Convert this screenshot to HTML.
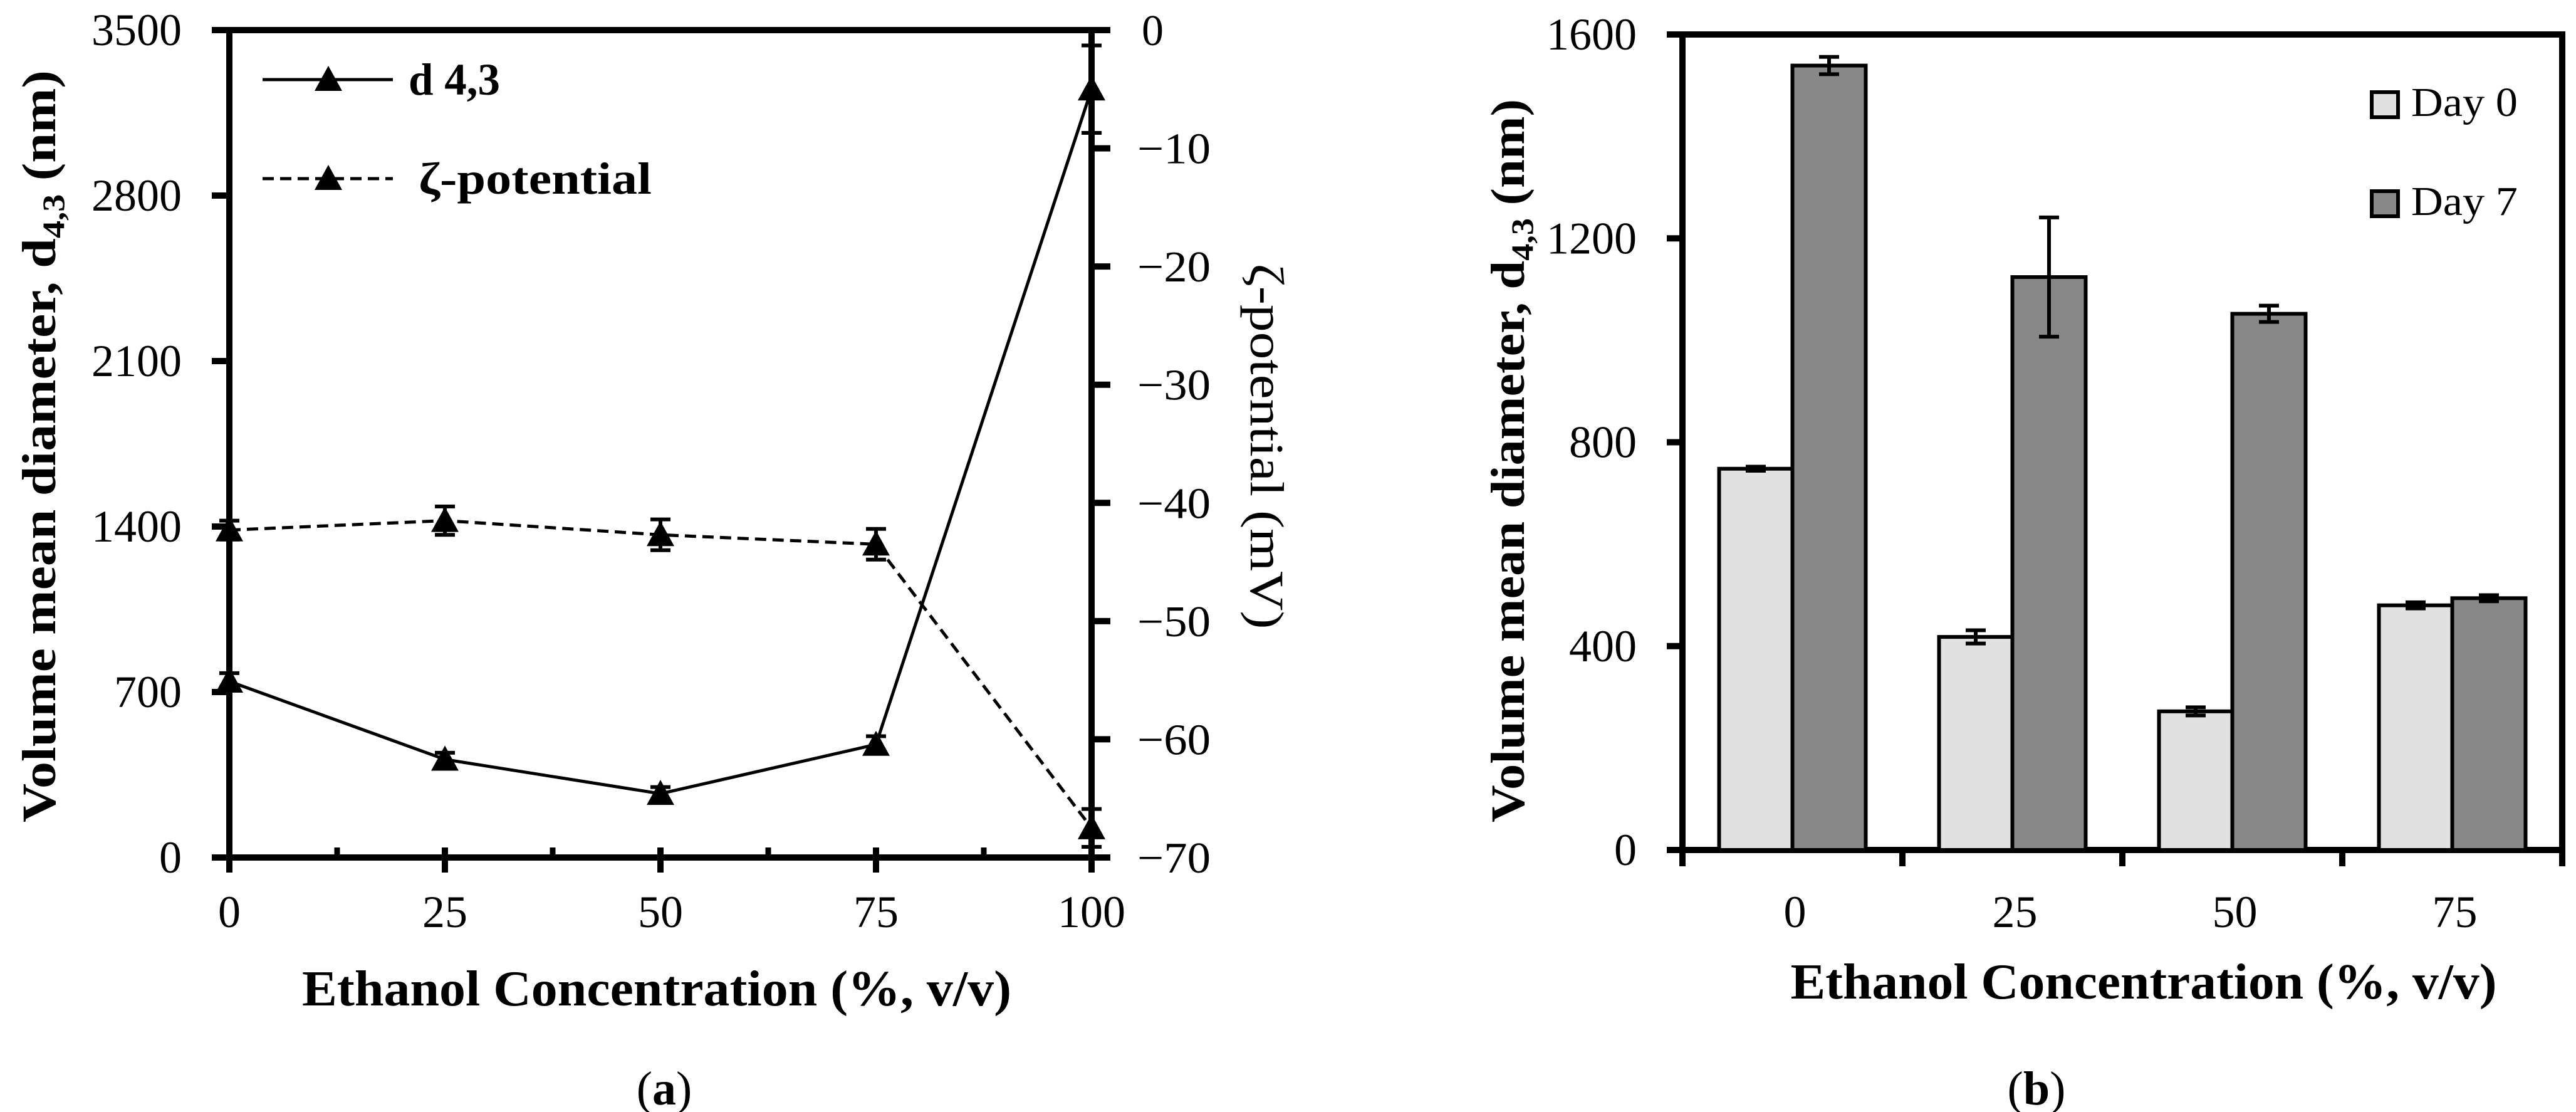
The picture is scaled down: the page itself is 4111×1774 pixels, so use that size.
<!DOCTYPE html>
<html><head><meta charset="utf-8"><style>
html,body{margin:0;padding:0;background:#fff;}
svg{display:block;}
text{font-family:"Liberation Serif",serif;fill:#000;}
</style></head><body>
<svg id="fig" width="4111" height="1774" viewBox="0 0 4111 1774" xmlns="http://www.w3.org/2000/svg">
<g id="pa"></g>
<g id="pb"></g>
</svg>
<script>
// ---- Panel (a) data ----
const aCategories = [0, 25, 50, 75, 100];
const aD43 = [745, 415, 270, 478, 3250];
const aD43Err = [35, 28, 28, 35, 185];
const aZeta = [-42.3, -41.5, -42.7, -43.5, -67.5];
const aZetaErr = [0.8, 1.2, 1.3, 1.3, 1.6];
const aLeftTicks = [0, 700, 1400, 2100, 2800, 3500];
const aRightTicks = [0, -10, -20, -30, -40, -50, -60, -70];
const aXTicks = [0, 25, 50, 75, 100];
// ---- Panel (b) data ----
const bCategories = ["0", "25", "50", "75"];
const bDay0 = [748, 418, 272, 480];
const bDay0Err = [4, 13, 8, 6];
const bDay7 = [1539, 1124, 1052, 494];
const bDay7Err = [17, 117, 16, 6];
const bYTicks = [0, 400, 800, 1200, 1600];

const NS = "http://www.w3.org/2000/svg";
function mk(parent, tag, attrs, txt) {
  const e = document.createElementNS(NS, tag);
  for (const k in attrs) e.setAttribute(k, attrs[k]);
  if (txt !== undefined) e.textContent = txt;
  parent.appendChild(e);
  return e;
}
const pa = document.getElementById('pa');
const pb = document.getElementById('pb');

// ===== Panel a axes =====
const AX0 = 366, AX1 = 1742, AY0 = 1368, AY1 = 48;
const ax = v => AX0 + (v - 0) / 100 * (AX1 - AX0);
const ayL = v => AY0 - v / 3500 * (AY0 - AY1);
const ayR = v => AY1 + (-v) / 70 * (AY0 - AY1);

let e;
e = mk(pa, 'rect', {x: AX0, y: AY1, width: AX1 - AX0, height: AY0 - AY1, fill: 'none', stroke: '#000', 'stroke-width': 10});



aLeftTicks.forEach(t => {
  const y = ayL(t);
  let l = mk(pa, 'line', {x1: 338, x2: AX0, y1: y, y2: y, stroke: '#000', 'stroke-width': 10});
  
  
  let tx = mk(pa, 'text', {x: 290, y: y + 24, 'text-anchor': 'end', 'font-size': 72}, String(t));
  
  
});
aRightTicks.forEach(t => {
  const y = ayR(t);
  let l = mk(pa, 'line', {x1: AX1, x2: 1772, y1: y, y2: y, stroke: '#000', 'stroke-width': 10});
  
  
  const lab = t === 0 ? '0' : '\u2212' + String(-t);
  const attrs = t === 0 ? {x: 1822, y: y + 24, 'font-size': 70} :
    {x: 1815, y: y + 24, 'font-size': 70, textLength: 117, lengthAdjust: 'spacingAndGlyphs'};
  let tx = mk(pa, 'text', attrs, lab);
  
  
});
for (let v = 12.5; v < 100; v += 12.5) {
  const x = ax(v);
  let l = mk(pa, 'line', {x1: x, x2: x, y1: AY0 - 16, y2: AY0, stroke: '#000', 'stroke-width': 9});
  
  
}
aXTicks.forEach(t => {
  const x = ax(t);
  let l = mk(pa, 'line', {x1: x, x2: x, y1: AY0 - 16, y2: AY0 + 24, stroke: '#000', 'stroke-width': 10});
  
  
  let tx = mk(pa, 'text', {x: x, y: 1479, 'text-anchor': 'middle', 'font-size': 72}, String(t));
  
  
});

function tri(g, cx, cy, name) {
  let p = mk(g, 'polygon', {points: `${cx},${cy - 22} ${cx - 22},${cy + 18} ${cx + 22},${cy + 18}`, fill: '#000'});
  
  
}
function errbar(g, x, y1, y2, w, name) {
  let gg = mk(g, 'g', {stroke: '#000', 'stroke-width': 6});
  
  
  mk(gg, 'line', {x1: x, x2: x, y1: y1, y2: y2});
  mk(gg, 'line', {x1: x - w, x2: x + w, y1: y1, y2: y1});
  mk(gg, 'line', {x1: x - w, x2: x + w, y1: y2, y2: y2});
}
const ptsD = aCategories.map((c, i) => `${ax(c)},${ayL(aD43[i])}`).join(' ');
e = mk(pa, 'polyline', {points: ptsD, fill: 'none', stroke: '#000', 'stroke-width': 5});


const ptsZ = aCategories.map((c, i) => `${ax(c)},${ayR(aZeta[i])}`).join(' ');
e = mk(pa, 'polyline', {points: ptsZ, fill: 'none', stroke: '#000', 'stroke-width': 5, 'stroke-dasharray': '18 10'});


aCategories.forEach((c, i) => {
  errbar(pa, ax(c), ayL(aD43[i] + aD43Err[i]), ayL(aD43[i] - aD43Err[i]), 16, 'd43-error-bar');
  tri(pa, ax(c), ayL(aD43[i]), 'd43-point');
  errbar(pa, ax(c), ayR(aZeta[i] + aZetaErr[i]), ayR(aZeta[i] - aZetaErr[i]), 16, 'zeta-error-bar');
  tri(pa, ax(c), ayR(aZeta[i]), 'zeta-point');
});

// legend a
let lg = mk(pa, 'g', {});


mk(lg, 'line', {x1: 419, x2: 627, y1: 127, y2: 127, stroke: '#000', 'stroke-width': 5});
tri(lg, 524, 127, 'legend-d43-marker');
e = mk(lg, 'text', {x: 652, y: 151, 'font-size': 72, 'font-weight': 'bold', textLength: 146, lengthAdjust: 'spacingAndGlyphs'}, 'd 4,3');


mk(lg, 'line', {x1: 419, x2: 627, y1: 285, y2: 285, stroke: '#000', 'stroke-width': 5, 'stroke-dasharray': '18 10'});
tri(lg, 524, 285, 'legend-zeta-marker');
e = mk(lg, 'text', {x: 668, y: 309, 'font-size': 72, 'font-weight': 'bold', textLength: 372, lengthAdjust: 'spacingAndGlyphs'}, 'ζ-potential');



// titles a
e = mk(pa, 'text', {x: 1048, y: 1604, 'text-anchor': 'middle', 'font-size': 80, 'font-weight': 'bold', textLength: 1132, lengthAdjust: 'spacingAndGlyphs'}, 'Ethanol Concentration (%, v/v)');


e = mk(pa, 'text', {x: 0, y: 0, 'text-anchor': 'middle', 'font-size': 76, 'font-weight': 'bold', transform: 'translate(88,712) rotate(-90)', textLength: 1200, lengthAdjust: 'spacingAndGlyphs'});


mk(e, 'tspan', {}, 'Volume mean diameter, d');
mk(e, 'tspan', {'font-size': 50, dy: 14}, '4,3');
mk(e, 'tspan', {dy: -14}, ' (nm)');
e = mk(pa, 'text', {x: 0, y: 0, 'text-anchor': 'middle', 'font-size': 76, transform: 'translate(1996,712) rotate(90)', textLength: 583, lengthAdjust: 'spacingAndGlyphs'}, 'ζ-potential (mV)');


e = mk(pa, 'text', {x: 1060, y: 1762, 'text-anchor': 'middle', 'font-size': 76});


mk(e, 'tspan', {}, '(');
mk(e, 'tspan', {'font-weight': 'bold'}, 'a');
mk(e, 'tspan', {}, ')');

// ===== Panel b =====
const BX0 = 2685, BX1 = 4089, BY0 = 1356, BY1 = 55;
const by = v => BY0 - v / 1600 * (BY0 - BY1);
const cw = (BX1 - BX0) / bCategories.length;
const bw = 117;
e = mk(pb, 'rect', {x: BX0, y: BY1, width: BX1 - BX0, height: BY0 - BY1, fill: 'none', stroke: '#000', 'stroke-width': 10});


bYTicks.forEach(t => {
  const y = by(t);
  let l = mk(pb, 'line', {x1: 2660, x2: BX0, y1: y, y2: y, stroke: '#000', 'stroke-width': 10});
  
  
  let tx = mk(pb, 'text', {x: 2612, y: y + 24, 'text-anchor': 'end', 'font-size': 72}, String(t));
  
  
});
for (let i = 0; i <= bCategories.length; i++) {
  const x = BX0 + i * cw;
  let l = mk(pb, 'line', {x1: x, x2: x, y1: BY0, y2: BY0 + 26, stroke: '#000', 'stroke-width': 10});
  
  
}
bCategories.forEach((c, i) => {
  const cx = BX0 + cw * (i + 0.5);
  let r0 = mk(pb, 'rect', {x: cx - bw, y: by(bDay0[i]), width: bw, height: BY0 - by(bDay0[i]), fill: '#e1e1e1', stroke: '#000', 'stroke-width': 6});
  
  
  let r7 = mk(pb, 'rect', {x: cx, y: by(bDay7[i]), width: bw, height: BY0 - by(bDay7[i]), fill: '#888888', stroke: '#000', 'stroke-width': 6});
  
  
  errbar(pb, cx - bw / 2, by(bDay0[i] + bDay0Err[i]), by(bDay0[i] - bDay0Err[i]), 16, 'day0-error-bar');
  errbar(pb, cx + bw / 2, by(bDay7[i] + bDay7Err[i]), by(bDay7[i] - bDay7Err[i]), 16, 'day7-error-bar');
  let tx = mk(pb, 'text', {x: cx + 4, y: 1479, 'text-anchor': 'middle', 'font-size': 72}, c);
  
  
});
// legend b
let lb = mk(pb, 'g', {});


e = mk(lb, 'rect', {x: 3785, y: 147, width: 42, height: 40, fill: '#e1e1e1', stroke: '#000', 'stroke-width': 6});


e = mk(lb, 'text', {x: 3848, y: 185, 'font-size': 66, textLength: 170, lengthAdjust: 'spacingAndGlyphs'}, 'Day 0');


e = mk(lb, 'rect', {x: 3785, y: 305, width: 42, height: 40, fill: '#888888', stroke: '#000', 'stroke-width': 6});


e = mk(lb, 'text', {x: 3848, y: 343, 'font-size': 66, textLength: 170, lengthAdjust: 'spacingAndGlyphs'}, 'Day 7');


// titles b
e = mk(pb, 'text', {x: 3421, y: 1593, 'text-anchor': 'middle', 'font-size': 80, 'font-weight': 'bold', textLength: 1127, lengthAdjust: 'spacingAndGlyphs'}, 'Ethanol Concentration (%, v/v)');


e = mk(pb, 'text', {x: 0, y: 0, 'text-anchor': 'middle', 'font-size': 76, 'font-weight': 'bold', transform: 'translate(2432,735) rotate(-90)', textLength: 1154, lengthAdjust: 'spacingAndGlyphs'});


mk(e, 'tspan', {}, 'Volume mean diameter, d');
mk(e, 'tspan', {'font-size': 50, dy: 14}, '4,3');
mk(e, 'tspan', {dy: -14}, ' (nm)');
e = mk(pb, 'text', {x: 3250, y: 1762, 'text-anchor': 'middle', 'font-size': 76});


mk(e, 'tspan', {}, '(');
mk(e, 'tspan', {'font-weight': 'bold'}, 'b');
mk(e, 'tspan', {}, ')');
</script>
</body></html>
